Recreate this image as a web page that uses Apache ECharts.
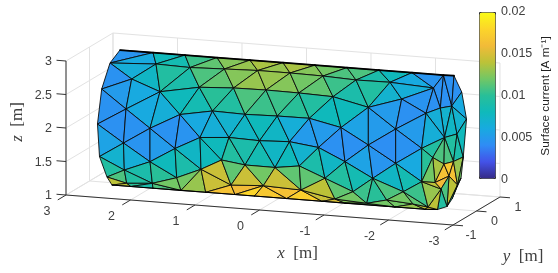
<!DOCTYPE html>
<html>
<head>
<meta charset="utf-8">
<style>html,body{margin:0;padding:0;background:#fff}#c{width:558px;height:273px}</style>
<script src="https://cdn.jsdelivr.net/npm/echarts@6/dist/echarts.min.js"></script>
</head>
<body>
<div id="c"></div>
<script>
// ---------- data ----------
const xTicks = [3, 2, 1, 0, -1, -2, -3];
const yTicks = [-1, 0, 1];
const zTicks = [1, 1.5, 2, 2.5, 3];
const colorTicksMax = 0.02;
const colorTickStep = 0.005;
const parula = ['#352a87','#4352e8','#2f8cf5','#18aae0','#0fb9bb','#28bf98','#72c765','#bcc238','#f2bb38','#fcd52a','#f9fb15'];

// mesh nodes: position along the axis (m) and height (m), read in the plane y = 0
const nodeNames = [
 'a0','a1','a2','a3','a4','a5','a6',
 't1','t2','t3','t4','t5','t6','t7','t8','t9','t10','t11',
 'b1','b2','b3','b4','b5','b6','b7','b8','b9',
 'c1','c2','c3','c4','c5','c6','c7','c8','c9','c10',
 'd1','d2','d3','d4','d5','d6','d7','d8',
 'n1','n2','n3','n4','n5','n6','n7','n8',
 'e1','e2','e3','e4','e5','e6','e7',
 'f1','f2','f3p','f3','f4','f5','f6','f7','f8',
 'g1','g2','k','m','g7','g8','p','q','r','s','v',
 'u1','u2','u3','u4','u5','u6','u7','u8','u9','u10','u11','tip',
 'w2','w3','w4','w5','w6','w7','w8','w9','w10','w11','w12','w13','w14','w15','w16','w17','w18'
];
const nodeX = [
 2.527,2.682,2.811,2.876,2.845,2.729,2.651,
 2.015,1.519,1.023,0.512,0,-0.496,-0.992,-1.488,-2.0,-2.488,-2.651,
 1.969,1.442,0.907,0.392,-0.109,-0.620,-1.132,-1.659,-2.333,
 2.346,1.907,1.298,0.767,0.264,-0.245,-0.775,-1.323,-1.840,-2.217,
 2.434,2.062,1.597,1.093,0.589,0.088,-0.408,-0.899,
 -1.323,-1.747,-2.150,-1.747,-0.961,-1.391,-1.865,-2.150,
 2.473,1.674,1.287,0.837,0.364,-0.101,-0.550,
 2.460,2.062,1.648,1.271,0.953,0.589,0.124,-0.253,-0.651,
 2.423,2.026,0.806,0.305,-0.279,-0.806,-1.085,-1.298,-1.608,-2.016,-2.248,
 2.357,2.015,1.581,1.198,0.744,0.442,-0.057,-0.605,-0.961,-1.736,-2.202,-2.395,
 -2.771,-2.439,-2.616,-2.845,-2.504,-2.698,-2.795,-2.321,-2.496,-2.643,-2.357,-2.450,-2.574,-2.705,-2.543,-2.760,-2.620
];
const nodeZ = [
 2.990,2.785,2.387,1.860,1.377,1.080,0.966,
 2.99,2.99,2.99,2.99,2.99,2.99,2.99,2.99,2.99,2.99,2.993,
 2.823,2.810,2.828,2.844,2.844,2.837,2.816,2.821,2.786,
 2.571,2.414,2.526,2.555,2.562,2.556,2.540,2.422,2.585,2.400,
 2.117,1.857,2.097,2.187,2.175,2.187,2.190,2.089,
 1.860,2.130,1.872,1.618,1.584,1.368,1.203,1.374,
 1.606,1.584,1.777,1.811,1.798,1.818,1.765,
 1.204,1.358,1.150,1.304,1.466,1.419,1.416,1.467,1.313,
 1.009,1.038,1.104,1.131,1.110,1.015,1.145,0.988,1.060,1.031,1.003,
 0.966,0.966,0.966,0.966,0.966,0.966,0.966,0.966,0.966,0.966,0.966,0.977,
 2.759,2.495,2.538,2.361,2.060,2.127,1.791,1.748,1.664,1.712,1.377,1.287,1.490,1.366,1.033,1.474,1.151
];
// triangles and the surface current on each one (in 0.001 A/m)
const faceNodes = [
 'a0 a1 t1','a1 b1 t1','t1 b1 t2','b1 b2 t2','t2 b2 t3','b2 b3 t3','t3 b3 t4','b3 b4 t4','t4 b4 t5','b4 b5 t5','t5 b5 t6','b5 b6 t6','t6 b6 t7','b6 b7 t7','t7 b7 t8','b7 b8 t8','t8 b8 t9','b8 b9 t9','t9 b9 t10',
 'a1 c1 b1','a1 a2 c1','b1 c1 c2','b1 c2 b2','b2 c2 c3','b2 c3 b3','b3 c3 c4','b3 c4 b4','b4 c4 c5','b4 c5 b5','b5 c5 c6','b5 c6 b6','b6 c6 c7','b6 c7 b7','b7 c7 c8','b7 c8 b8','b8 c8 c9','b8 c9 b9','b9 c9 c10',
 'a2 d1 c1','a2 a3 d1','c1 d1 c2','d1 d2 c2','c2 d2 d3','c2 d3 c3','c3 d3 d4','c3 d4 c4','c4 d4 d5','c4 d5 c5','c5 d5 d6','c5 d6 c6','c6 d6 d7','c6 d7 c7','c7 d7 d8','c7 d8 c8','c8 d8 n1','c8 n1 n2','c8 n2 c9','c9 n2 c10','c10 n2 n3',
 'a3 e1 d1','a3 a4 e1','d1 e1 d2','d2 e1 f2','d2 f2 e2','d2 e2 d3','d3 e2 e3','d3 e3 d4','d4 e3 e4','d4 e4 d5','d5 e4 e5','d5 e5 d6','d6 e5 e6','d6 e6 d7','d7 e6 e7','d7 e7 d8','d8 e7 n5','d8 n5 n1','n1 n5 n6','n1 n6 n4','n1 n4 n2','n2 n4 n3','n3 n4 n8','n4 n7 n8','n4 n6 n7',
 'a4 f1 e1','a4 a5 f1','e1 f1 f2','f1 g2 f2','f2 g2 f3p','f2 f3p e2','e2 f3p f3','e2 f3 e3','e3 f3 f4','e3 f4 e4','e4 f4 f5','e4 f5 e5','e5 f5 f6','e5 f6 e6','e6 f6 f7','e6 f7 e7','e7 f7 f8','e7 f8 n5','f8 p n5','n5 p n6',
 'a5 g1 f1','a5 a6 g1','f1 g1 g2','a6 u1 g1','g1 u1 g2','u1 u2 g2','g2 u2 u3','g2 u3 f3p','f3p u3 f3','f3 u3 u4','f3 u4 k','f3 k f4','f4 k f5','k u4 u5','k u5 m','k m f5','f5 m f6','m u5 u6','m u6 u7','m u7 g7','m g7 f6','f6 g7 f7','f7 g7 f8','g7 u7 u8','g7 u8 g8','g7 g8 f8','f8 g8 p','g8 u8 u9','g8 u9 q','g8 q p','p q n6','n6 q r','n6 r n7','q u9 u10','q u10 r','r u10 s','r s n7','s u10 u11','s u11 v','u11 tip v','n7 s v','n7 v n8',
 't10 b9 w3','b9 w3 c10','t10 w3 w4','t10 t11 w4','t11 w2 w4','w2 w5 w4','w3 w4 w6','w4 w7 w6','w4 w5 w7','c10 w3 w6','c10 w6 n3','n3 w6 w9','w6 w10 w9','w6 w7 w11','w6 w11 w10','w7 w8 w11','w5 w8 w7','w9 w10 w12','n3 w9 n8','w9 w12 n8','w10 w14 w12','w10 w11 w14','w12 w14 w13','w11 w15 w14','w11 w8 w15','w8 w17 w15','w14 w15 w16','w13 w14 w16','w15 w17 w18','w15 w18 w16','w13 w16 tip','v w13 tip','n8 w13 v','n8 w12 w13'
];
const faceCurrent = [
 4.5,6,8,8.5,10.5,11.5,12.5,13,13.5,13,13.5,12.5,12,11,11,9,8,6,4.5,
 6.5,4.4,7.5,9.5,9,11,11.5,12.5,13,13,12.5,12,11.5,10.5,9,9.5,7,6.5,4.5,
 5,4.4,6,6,6.5,8,8.5,10,9.5,11,10.5,10.5,10,9.5,8,8,5.5,5,5,4.3,5,
 4.3,5.5,4.4,4.5,5,4.4,4.5,6,6.5,7,7.5,8,7.5,6.5,5,5,4.3,4.3,5.5,4.6,4.2,4.4,6,8.5,7.5,
 7,9.5,6.5,9,10,8,9,7.5,8,8,9.5,9,8.5,7.5,8,7,9,7.5,9.5,8.5,
 11,14,9.5,14,10,9,11,12,12,13,14.5,14.5,11.5,16.5,16,14.5,12,18,17,16.5,14.5,11.5,11.5,17.5,14.5,14,11.5,15,12.5,12,10.5,10,11,11.5,12,12,12,13,14,15,11.5,10.5,
 4.3,4.3,4.3,4.3,4.3,6,7,7.5,7,6.5,6.5,9.5,11,9.5,11,9,8,13.5,10,12,16.5,17,16,16.5,13,12,14,11,10,10,9.5,14,13,14
];
const topEdge = ['a0','t1','t2','t3','t4','t5','t6','t7','t8','t9','t10','t11'];
const bottomEdge = ['a6','u1','u2','u3','u4','u5','u6','u7','u8','u9','u10','u11','tip'];

// ---------- oblique view of the 3D box on to a hidden value grid ----------
const H = (x, y) => -x + 0.3643 * y;
const V = (x, y, z) => z + (5 / 67) * x + (14 / 67) * y;
const proj = (x, y, z) => [H(x, y), V(x, y, z)];

const nodeIndex = {};
nodeNames.forEach((n, i) => { nodeIndex[n] = i; });
const nodeAt = n => proj(nodeX[nodeIndex[n]], 0, nodeZ[nodeIndex[n]]);

const meshData = faceNodes.map((f, i) => {
  const p = f.split(' ').map(nodeAt);
  return [p[0][0], p[0][1], p[1][0], p[1][1], p[2][0], p[2][1], faceCurrent[i] / 1000];
});

const xMin = xTicks[xTicks.length - 1], xMax = xTicks[0];
const yMin = yTicks[0], yMax = yTicks[yTicks.length - 1];
const zMin = zTicks[0], zMax = zTicks[zTicks.length - 1];

const gridSegs = [], axisSegs = [];
const seg = (list, a, b) => list.push([...proj(...a), ...proj(...b)]);
xTicks.forEach(x => {
  seg(gridSegs, [x, yMax, zMin], [x, yMax, zMax]);
  seg(gridSegs, [x, yMin, zMin], [x, yMax, zMin]);
});
yTicks.forEach(y => {
  seg(gridSegs, [xMax, y, zMin], [xMax, y, zMax]);
  seg(gridSegs, [xMin, y, zMin], [xMax, y, zMin]);
});
zTicks.forEach(z => {
  seg(gridSegs, [xMin, yMax, z], [xMax, yMax, z]);
  seg(gridSegs, [xMax, yMin, z], [xMax, yMax, z]);
});
seg(axisSegs, [xMax, yMin, zMin], [xMax, yMin, zMax]);
seg(axisSegs, [xMin, yMin, zMin], [xMax, yMin, zMin]);
seg(axisSegs, [xMin, yMin, zMin], [xMin, yMax, zMin]);
xTicks.forEach(x => seg(axisSegs, [x, yMin, zMin], [x, yMin - 0.35, zMin]));
yTicks.forEach(y => seg(axisSegs, [xMin, y, zMin], [xMin - 0.155, y, zMin]));
zTicks.forEach(z => seg(axisSegs, [xMax, yMin, z], [xMax + 0.147, yMin, z]));

const tickFont = { fontFamily: 'Liberation Sans', fontSize: 12.5, fill: '#404040' };
const labels = [];
xTicks.forEach(x => labels.push({ at: proj(x, yMin, zMin), dx: -19, dy: 17, text: String(x) }));
yTicks.forEach(y => labels.push({ at: proj(xMin, y, zMin), dx: 18, dy: 11, text: String(y) }));
zTicks.forEach(z => labels.push({ at: proj(xMax, yMin, z), dx: -14, dy: 1, text: String(z), align: 'right' }));
const titleRich = { i: { fontFamily: 'Liberation Serif', fontStyle: 'italic', fontSize: 17, fill: '#404040' }, r: { fontFamily: 'Liberation Serif', fontSize: 17, fill: '#404040' } };
labels.push({ at: proj(0, yMin, zMin), dx: 38, dy: 44, text: '{i|x}{r|  [m]}', rich: titleRich });
labels.push({ at: proj(xMin, 0, zMin), dx: 46.5, dy: 46, text: '{i|y}{r|  [m]}', rich: titleRich });
labels.push({ at: proj(xMax, yMin, 2), dx: -48, dy: -6, text: '{i|z}{r|  [m]}', rich: titleRich, rotation: Math.PI / 2 });

const segRender = color => (params, api) => {
  const a = api.coord([api.value(0), api.value(1)]);
  const b = api.coord([api.value(2), api.value(3)]);
  return { type: 'line', shape: { x1: a[0], y1: a[1], x2: b[0], y2: b[1] }, style: { stroke: color, lineWidth: 1 }, silent: true };
};
const edgeRender = width => (params, api) => {
  const a = api.coord([api.value(0), api.value(1)]);
  const b = api.coord([api.value(2), api.value(3)]);
  return { type: 'line', shape: { x1: a[0], y1: a[1], x2: b[0], y2: b[1] }, style: { stroke: '#000', lineWidth: width, lineCap: 'round' }, silent: true };
};
const edgeSegs = list => list.slice(1).map((n, i) => [...nodeAt(list[i]), ...nodeAt(n)]);
const enc4 = { x: [0, 2], y: [1, 3] };

const chart = echarts.init(document.getElementById('c'), null, { renderer: 'canvas' });
chart.setOption({
  animation: false,
  backgroundColor: '#fff',
  grid: [
    { left: 0, right: 0, top: 0, bottom: 0 },
    { left: 479, top: 12, width: 16, height: 168 }
  ],
  xAxis: [
    { type: 'value', gridIndex: 0, min: -283 / 64.5, max: 275 / 64.5, show: false },
    { type: 'value', gridIndex: 1, min: 0, max: 1, show: false }
  ],
  yAxis: [
    { type: 'value', gridIndex: 0, min: -10 / 67, max: 263 / 67, show: false },
    {
      type: 'value', gridIndex: 1, min: 0, max: colorTicksMax, interval: colorTickStep, position: 'right',
      axisLine: { show: false }, splitLine: { show: false },
      axisTick: { show: false },
      axisLabel: { color: '#404040', fontFamily: 'Liberation Sans', fontSize: 12.5, margin: 6 },
      name: 'Surface current [A m\u207B\u00B9]', nameLocation: 'middle', nameRotate: 90, nameGap: 45,
      nameTextStyle: { color: '#202020', fontFamily: 'Liberation Sans', fontSize: 11.8, padding: [0, 0, 14, 0] }
    }
  ],
  visualMap: {
    type: 'continuous', seriesIndex: 2, dimension: 6, min: 0, max: colorTicksMax,
    left: 479, top: 12, itemWidth: 16, itemHeight: 166, padding: 0,
    calculable: false, realtime: false, text: null, showLabel: false,
    borderWidth: 1, borderColor: '#303030',
    inRange: { color: parula }, textStyle: { fontSize: 0 }
  },
  series: [
    { type: 'custom', name: 'grid', coordinateSystem: 'cartesian2d', xAxisIndex: 0, yAxisIndex: 0, data: gridSegs, encode: enc4, renderItem: segRender('#e2e2e2'), z: 1 },
    { type: 'custom', name: 'axes', coordinateSystem: 'cartesian2d', xAxisIndex: 0, yAxisIndex: 0, data: axisSegs, encode: enc4, renderItem: segRender('#333'), z: 2 },
    {
      type: 'custom', name: 'mesh', coordinateSystem: 'cartesian2d', xAxisIndex: 0, yAxisIndex: 0, data: meshData,
      encode: { x: [0, 2, 4], y: [1, 3, 5] }, z: 3,
      renderItem: (params, api) => ({
        type: 'polygon',
        shape: { points: [0, 2, 4].map(i => api.coord([api.value(i), api.value(i + 1)])) },
        style: { fill: api.visual('color'), stroke: '#0b0b0b', lineWidth: 0.9, lineJoin: 'round' },
        silent: true
      })
    },
    { type: 'custom', name: 'top edge', coordinateSystem: 'cartesian2d', xAxisIndex: 0, yAxisIndex: 0, data: edgeSegs(topEdge), encode: enc4, renderItem: edgeRender(1.8), z: 4 },
    { type: 'custom', name: 'bottom edge', coordinateSystem: 'cartesian2d', xAxisIndex: 0, yAxisIndex: 0, data: edgeSegs(bottomEdge), encode: enc4, renderItem: edgeRender(1.1), z: 4 },
    {
      type: 'custom', name: 'labels', coordinateSystem: 'cartesian2d', xAxisIndex: 0, yAxisIndex: 0,
      data: labels.map(l => [l.at[0], l.at[1]]), encode: { x: 0, y: 1 }, z: 5,
      renderItem: (params, api) => {
        const l = labels[params.dataIndex];
        const c = api.coord([api.value(0), api.value(1)]);
        return {
          type: 'text', x: c[0] + l.dx, y: c[1] + l.dy, rotation: l.rotation || 0, silent: true,
          style: Object.assign({}, tickFont, { text: l.text, rich: l.rich, align: l.align || 'center', verticalAlign: 'middle' })
        };
      }
    }
  ]
});
</script>
</body>
</html>
